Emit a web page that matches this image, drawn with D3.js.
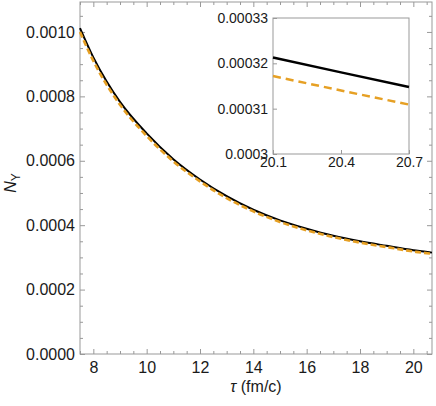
<!DOCTYPE html>
<html lang="en">
<head>
  <meta charset="UTF-8">
  <title>N_Upsilon vs tau</title>
  <script src="https://d3js.org/d3.v7.min.js"></script>
  <style>
    body { margin: 0; background: white; font-family: "Liberation Sans", Arial, sans-serif; }
    .axis path { display: none; }
    .axis line { stroke: #999; }
    .axis text { fill: #1a1a1a; }
  </style>
</head>
<body>
<div id="chart"></div>
<script>
// tau values (fm/c)
var tau = [7.5, 8, 8.5, 9, 10, 11, 12, 13, 14, 15, 16, 17, 18, 19, 20, 20.1, 20.4, 20.7];
// solid black curve
var nBlack = [0.001012, 0.000921, 0.000846, 0.000783, 0.000685, 0.000605, 0.000542, 0.000490,
              0.000448, 0.000415, 0.000389, 0.000367, 0.000350, 0.000336, 0.0003225,
              0.0003213, 0.0003180, 0.0003148];
// dashed orange curve
var nOrange = [0.001000, 0.000910, 0.000836, 0.000774, 0.000677, 0.000598, 0.000536, 0.000484,
               0.000443, 0.000410, 0.000384, 0.000363, 0.000346, 0.000332, 0.0003184,
               0.0003172, 0.0003140, 0.0003109];

var xTicks = [8, 10, 12, 14, 16, 18, 20];
var yTicks = [0, 0.0002, 0.0004, 0.0006, 0.0008, 0.0010];
var insetXTicks = [20.1, 20.4, 20.7];
var insetYTicks = [0.0003, 0.00031, 0.00032, 0.00033];

var W = 436, H = 406;
// plot box (don't call it "top", that's window.top)
var pL = 80, pT = 2, pR = 432, pB = 354;

var svg = d3.select("#chart").append("svg")
  .attr("width", W)
  .attr("height", H);

var x = d3.scaleLinear().domain([7.5, 20.7]).range([pL, pR]);
var y = d3.scaleLinear().domain([0, 0.001093]).range([pB, pT]);

// minor ticks every 0.5 / 0.00005
var xMinor = d3.range(7.5, 20.71, 0.5).filter(function(d){ return xTicks.indexOf(d) < 0; });
var yMinor = d3.range(0, 0.00109, 0.00005).filter(function(d){
  return !yTicks.some(function(t){ return Math.abs(t - d) < 1e-9; });
});

function addAxis(axis, tx, ty) {
  return svg.append("g")
    .attr("class", "axis")
    .attr("transform", "translate(" + tx + "," + ty + ")")
    .call(axis);
}

// main frame
svg.append("rect")
  .attr("x", pL).attr("y", pT)
  .attr("width", pR - pL).attr("height", pB - pT)
  .attr("fill", "none").attr("stroke", "#999").attr("stroke-width", 1);

// bottom axis (labelled) + minor
addAxis(d3.axisBottom(x).tickValues(xTicks).tickSize(-5).tickPadding(8)
  .tickFormat(d3.format("d")), 0, pB).attr("font-size", 16).attr("font-family", null);
addAxis(d3.axisBottom(x).tickValues(xMinor).tickSize(-3).tickFormat(""), 0, pB);
// top mirror
addAxis(d3.axisTop(x).tickValues(xTicks).tickSize(-5).tickFormat(""), 0, pT);
addAxis(d3.axisTop(x).tickValues(xMinor).tickSize(-3).tickFormat(""), 0, pT);
// left axis (labelled)
addAxis(d3.axisLeft(y).tickValues(yTicks).tickSize(-5).tickPadding(5)
  .tickFormat(d3.format(".4f")), pL, 0).attr("font-size", 16).attr("font-family", null);
addAxis(d3.axisLeft(y).tickValues(yMinor).tickSize(-3).tickFormat(""), pL, 0);
// right mirror
addAxis(d3.axisRight(y).tickValues(yTicks).tickSize(-5).tickFormat(""), pR, 0);
addAxis(d3.axisRight(y).tickValues(yMinor).tickSize(-3).tickFormat(""), pR, 0);

var pts = tau.map(function(t, i){ return {t: t, b: nBlack[i], o: nOrange[i]}; });

var lineB = d3.line().x(function(d){ return x(d.t); }).y(function(d){ return y(d.b); })
  .curve(d3.curveMonotoneX);
var lineO = d3.line().x(function(d){ return x(d.t); }).y(function(d){ return y(d.o); })
  .curve(d3.curveMonotoneX);

svg.append("path").datum(pts)
  .attr("d", lineB).attr("fill", "none")
  .attr("stroke", "#000").attr("stroke-width", 2);
svg.append("path").datum(pts)
  .attr("d", lineO).attr("fill", "none")
  .attr("stroke", "#e6a024").attr("stroke-width", 2.6)
  .attr("stroke-dasharray", "6,3");

// axis titles
svg.append("text")
  .attr("x", (pL + pR) / 2).attr("y", 392)
  .attr("text-anchor", "middle").attr("font-size", 16).attr("fill", "#1a1a1a")
  .html('<tspan font-style="italic">τ</tspan> (fm/c)');

svg.append("text")
  .attr("transform", "translate(16," + 183 + ") rotate(-90)")
  .attr("text-anchor", "middle").attr("font-size", 16).attr("fill", "#1a1a1a")
  .html('<tspan font-style="italic">N</tspan><tspan font-size="12" dy="4">Υ</tspan>');

// ---- inset ----
var iL = 273, iT = 18, iR = 409, iB = 154;
var xi = d3.scaleLinear().domain([20.1, 20.7]).range([iL, iR]);
var yi = d3.scaleLinear().domain([0.0003, 0.00033]).range([iB, iT]);

svg.append("rect")
  .attr("x", iL).attr("y", iT)
  .attr("width", iR - iL).attr("height", iB - iT)
  .attr("fill", "white").attr("stroke", "#999").attr("stroke-width", 1);

addAxis(d3.axisBottom(xi).tickValues(insetXTicks).tickSize(-4).tickPadding(3)
  .tickFormat(d3.format(".1f")), 0, iB).attr("font-size", 14).attr("font-family", null);
addAxis(d3.axisLeft(yi).tickValues(insetYTicks).tickSize(-4).tickPadding(5)
  .tickFormat(function(d){ return d3.format(".5f")(d).replace(/0+$/, ""); }), iL, 0)
  .attr("font-size", 14).attr("font-family", null);

var inPts = pts.filter(function(d){ return d.t >= 20.1 - 1e-9; });
var lineBi = d3.line().x(function(d){ return xi(d.t); }).y(function(d){ return yi(d.b); });
var lineOi = d3.line().x(function(d){ return xi(d.t); }).y(function(d){ return yi(d.o); });

svg.append("path").datum(inPts)
  .attr("d", lineBi).attr("fill", "none")
  .attr("stroke", "#000").attr("stroke-width", 2.5);
svg.append("path").datum(inPts)
  .attr("d", lineOi).attr("fill", "none")
  .attr("stroke", "#e6a024").attr("stroke-width", 2.5)
  .attr("stroke-dasharray", "8,5");
</script>
</body>
</html>
